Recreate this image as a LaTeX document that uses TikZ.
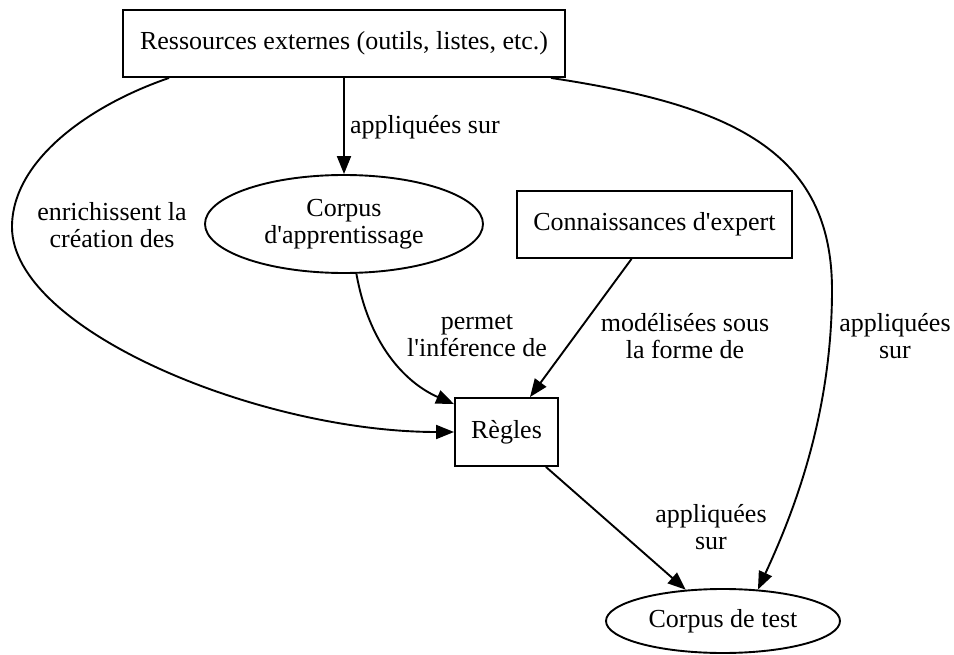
\documentclass[tikz,border=0pt]{standalone}
\usepackage{fontspec}
\setmainfont{Liberation Serif}
\usetikzlibrary{shapes.geometric,arrows.meta,calc}
\newcommand{\apos}{\textquotesingle}
\begin{document}
\begin{tikzpicture}[x=1pt,y=-1pt,
  every node/.style={font=\fontsize{26}{27.5}\selectfont},
  box/.style={draw,line width=1.9pt,rectangle,inner sep=0pt},
  oval/.style={draw,line width=1.9pt,ellipse,inner sep=0pt,align=center},
  lbl/.style={align=center,inner sep=0pt},
  edge/.style={line width=1.9pt,-{Triangle[length=18pt,width=14pt]}}
]
\useasboundingbox (0,0) rectangle (954,655);

% nodes
\node[box,minimum width=442pt,minimum height=67pt] (res) at (344,43.5)
  {Ressources externes (outils, listes, etc.)};
\node[oval,minimum width=278pt,minimum height=98pt] (appr) at (344,224)
  {Corpus\\d\apos apprentissage};
\node[box,minimum width=275pt,minimum height=67pt] (exp) at (654.5,224.5)
  {Connaissances d\apos expert};
\node[box,minimum width=103pt,minimum height=68pt] (regles) at (506.5,432)
  {Règles};
\node[oval,minimum width=234pt,minimum height=64pt] (test) at (723,621)
  {Corpus de test};

% connectors
\draw[edge] (res.south) -- (appr.north);
\draw[edge] ($(res.south west)+(47,0)$)
  .. controls (90,105) and (12,160) .. (12,227)
  .. controls (12,330) and (260,432) .. (regles.west);
\draw[edge] (appr.-76) .. controls (370,350) and (410,385) .. ($(regles.north west)+(0,7)$);
\draw[edge] ($(exp.south)+(-23,0)$) -- ($(regles.north)+(23.5,0)$);
\draw[edge] ($(regles.south east)+(-13,0)$) -- (test.140);
\draw[edge] ($(res.south east)+(-15,0)$)
  .. controls (730,105) and (832,150) .. (832,290)
  .. controls (832,420) and (790,520) .. (test.42);

% connector labels
\node[lbl,anchor=west] (l1) at (350,127) {appliquées sur};
\node[lbl] (l2) at (112,225) {enrichissent la\\création des};
\node[lbl] (l3) at (477,336) {permet\\l\apos inférence de};
\node[lbl] (l4) at (685,336) {modélisées sous\\la forme de};
\node[lbl] (l5) at (895,336) {appliquées\\sur};
\node[lbl] (l6) at (711,527) {appliquées\\sur};
\end{tikzpicture}
\end{document}
